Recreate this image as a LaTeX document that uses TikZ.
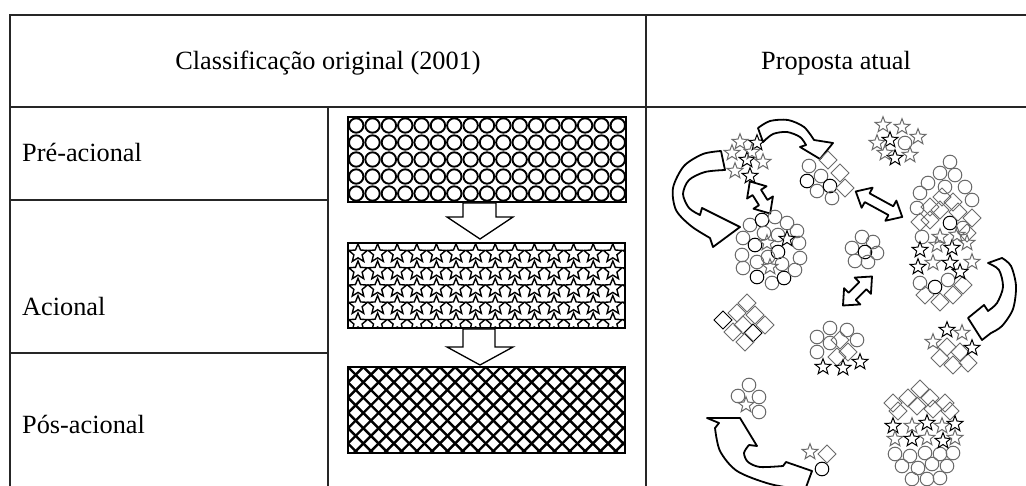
\documentclass[tikz,border=0pt]{standalone}
\usepackage{fontspec}
\setmainfont{Liberation Serif}
\begin{document}
\begin{tikzpicture}[x=1pt,y=-1pt,
  gridline/.style={draw=black!85, line width=1.3pt},
  lbl/.style={font=\fontsize{26.3}{30}\selectfont, inner sep=0pt},
  patbox/.style={draw=black, line width=1.8pt},
  blockarrow/.style={draw=black, line width=1.3pt, fill=white, line join=miter},
  hollow/.style={draw=black, line width=1.8pt, fill=white, line join=round},
  gr/.style={draw=black!58, line width=1pt},
  bk/.style={draw=black, line width=1pt},
  pics/dblarr/.style={code={\draw[hollow] ({-#1/2},0) -- ({-#1/2+13},-11.5) -- ({-#1/2+13},-5) -- ({#1/2-13},-5) -- ({#1/2-13},-11.5) -- ({#1/2},0) -- ({#1/2-13},11.5) -- ({#1/2-13},5) -- ({-#1/2+13},5) -- ({-#1/2+13},11.5) -- cycle;}},
]
\useasboundingbox (0,0) rectangle (1026,486);
\clip (0,0) rectangle (1026,486);
\fill[white] (0,0) rectangle (1026,486);

% ---------- table ----------
\draw[gridline] (10,486) -- (10,15) -- (1026,15);
\draw[gridline] (10,107) -- (1026,107);
\draw[gridline] (646,15) -- (646,486);
\draw[gridline] (328,107) -- (328,486);
\draw[gridline] (10,200) -- (328,200);
\draw[gridline] (10,353) -- (328,353);

\node[lbl, anchor=base] (hdrA) at (328,70) {Classificação original (2001)};
\node[lbl, anchor=base] (hdrB) at (836,70) {Proposta atual};
\node[lbl, anchor=base west] (pre) at (22,162) {Pré-acional};
\node[lbl, anchor=base west] (aci) at (22,316) {Acional};
\node[lbl, anchor=base west] (pos) at (22,433) {Pós-acional};

% ---------- middle column: patterned boxes ----------
\begin{scope}
  \clip (348,117) rectangle (626,202);
  \foreach \i in {0,...,16}
    \foreach \j in {0,...,4}
      \draw[line width=1.9pt] ({356.2+16.35*\i},{125.5+17*\j}) circle[radius=7.2];
\end{scope}
\draw[patbox] (348,117) rectangle (626,202);

\begin{scope}
  \clip (348,243) rectangle (625,328);
  \foreach \i in {-1,...,14}
    \foreach \j in {0,...,4}
      \draw[line width=1.4pt, shift={({358+19.6*\i},{253.5+17.3*\j})}]
        (-90:9.8) -- (-54:4.3) -- (-18:9.8) -- (18:4.3) -- (54:9.8) -- (90:4.3)
        -- (126:9.8) -- (162:4.3) -- (198:9.8) -- (234:4.3) -- cycle;
\end{scope}
\draw[patbox] (348,243) rectangle (625,328);

\begin{scope}
  \clip (348,367) rectangle (625,453);
  \foreach \k in {-7,...,25} {
    \draw[line width=2.4pt] ({348+15.3*\k},367) -- ++(86,86);
    \draw[line width=2.4pt] ({348+15.3*\k},367) -- ++(-86,86);
  }
\end{scope}
\draw[patbox] (348,367) rectangle (625,453);

\draw[blockarrow] (463,203) -- (496,203) -- (496,217) -- (513,217) -- (480,239)
  -- (447,217) -- (463,217) -- cycle;
\draw[blockarrow] (463,329) -- (495,329) -- (495,347) -- (513,347) -- (480,365)
  -- (447,347) -- (463,347) -- cycle;

% ---------- right column: curved hollow arrows ----------
% top arrow
\draw[hollow] (758,128) -- plot[smooth] coordinates {(758,128) (770,121) (788,120) (804,127) (814,140)}
  -- (833,143) -- (820,159) -- (800,147) -- (806,145)
  -- plot[smooth] coordinates {(806,145) (800,137) (787,132) (773,134) (763,142)} -- cycle;
% large left arrow
\draw[hollow] (721,151) -- plot[smooth] coordinates {(721,151) (703,154) (684,166) (673,188) (676,210) (691,226) (710,238)}
  -- (713,247) -- (740,227) -- (702,208) -- (700,215)
  -- plot[smooth] coordinates {(700,215) (689,208) (683,194) (689,180) (705,172) (725,170)} -- cycle;
% right arrow
\draw[hollow] (1002,258) -- plot[smooth] coordinates {(1002,258) (1011,266) (1016,286) (1013,309) (1002,326) (991,333)}
  -- (982,340) -- (968,318) -- (984,305) -- (988,311)
  -- plot[smooth] coordinates {(988,311) (997,303) (1003,287) (999,270) (988,263)} -- cycle;
% bottom arrow
\draw[hollow] (707,418) -- (740,418) -- (757,446) -- (749,445)
  -- plot[smooth] coordinates {(749,445) (744,453) (748,462) (760,467) (783,466)}
  -- (786,462) -- (812,471) -- (805,490)
  -- plot[smooth] coordinates {(805,490) (770,484) (737,471) (720,451) (715,428)}
  -- (719,423) -- cycle;

% double arrows
\pic[rotate=-57.7] at (760,197.5) {dblarr=38};
\pic[rotate=-28.7] at (879,204.2) {dblarr=53};
\pic[rotate=45] at (857.5,291) {dblarr=41};

% ---------- right column: clusters ----------
% circles
\foreach \x/\y/\s in {
  809/166/gr, 807/181/bk, 821/176/gr, 817/191/gr, 830/186/bk, 832/198/gr,
  750/225/gr, 762/220/bk, 775/217/gr, 787/223/gr, 797/231/gr, 743/238/gr, 755/245/bk,
  742/255/gr, 757/262/gr, 743/268/gr, 757/277/bk, 772/283/gr, 784/278/bk, 795/270/gr,
  800/258/gr, 799/243/gr, 778/252/bk, 768/257/gr, 782/264/gr, 764/233/gr, 778/235/gr,
  852/248/gr, 862/237/gr, 873/242/gr, 865/252/bk, 877/253/gr, 855/261/gr, 868/262/gr,
  905/143/gr,
  950/162/gr, 940/173/gr, 955/175/gr, 928/183/gr, 945/187/gr, 965/187/gr, 920/193/gr,
  972/200/gr, 917/208/gr, 950/223/bk, 963/228/gr, 922/237/gr, 920/283/gr, 935/287/bk, 948/280/gr,
  830/328/gr, 847/330/gr, 817/337/gr, 857/340/gr, 830/343/gr, 817/352/gr,
  749/385/gr, 738/396/gr, 759/397/gr, 759/412/gr,
  822/469/bk,
  895/454/gr, 910/456/gr, 925/453/gr, 940/454/gr, 953/453/gr, 902/466/gr, 918/468/gr,
  932/464/gr, 947/466/gr, 912/479/gr, 927/479/gr, 940/478/gr}
  \draw[\s] (\x,\y) circle[radius=6.8];

% diamonds
\foreach \x/\y/\s in {
  828/160/gr, 840/173/gr, 845/188/gr,
  930/207/gr, 942/197/gr, 940/210/gr, 953/202/gr, 930/220/gr, 920/222/gr, 972/218/gr,
  958/212/gr, 925/295/gr, 940/302/gr, 953/295/gr, 963/285/gr, 967/233/gr,
  747/303/gr, 737/313/gr, 755/315/gr, 723/320/bk, 743/325/gr, 765/325/gr, 733/332/gr,
  753/333/bk, 745/342/gr,
  840/340/gr, 837/357/gr, 848/352/gr,
  947/347/gr, 960/352/gr, 940/358/gr, 953/365/gr, 968/363/gr,
  827/454/gr,
  920/389/gr, 908/398/gr, 930/398/gr, 893/403/gr, 945/403/gr, 917/406/gr, 933/409/gr,
  898/411/gr, 950/411/gr}
  \draw[\s, shift={(\x,\y)}] (0,-9) -- (9,0) -- (0,9) -- (-9,0) -- cycle;

% stars
\foreach \x/\y/\s in {
  740/142/gr, 757/143/bk, 732/153/gr, 747/160/bk, 763/162/gr, 735/171/gr, 750/176/bk, 752/152/gr,
  767/243/gr, 787/239/bk, 770/267/gr,
  883/125/gr, 902/127/gr, 918/137/gr, 877/143/gr, 890/140/bk, 910/155/gr, 895/158/bk, 885/153/gr,
  920/250/bk, 937/245/gr, 952/248/bk, 967/243/gr, 918/267/bk, 933/263/gr, 950/263/bk,
  972/262/gr, 960/272/bk, 940/237/gr, 957/235/gr,
  823/367/bk, 843/368/bk, 860/362/bk,
  947/330/bk, 962/333/gr, 933/342/gr, 972/348/bk,
  746/405/gr, 810/452/gr,
  893/426/bk, 912/426/gr, 927/423/bk, 942/426/gr, 955/424/bk, 895/439/gr, 912/439/bk,
  927/438/gr, 943/441/bk, 955/438/gr}
  \draw[\s, shift={(\x,\y)}] (-90:8.3) -- (-54:3.5) -- (-18:8.3) -- (18:3.5) -- (54:8.3) -- (90:3.5)
    -- (126:8.3) -- (162:3.5) -- (198:8.3) -- (234:3.5) -- cycle;
\end{tikzpicture}
\end{document}
